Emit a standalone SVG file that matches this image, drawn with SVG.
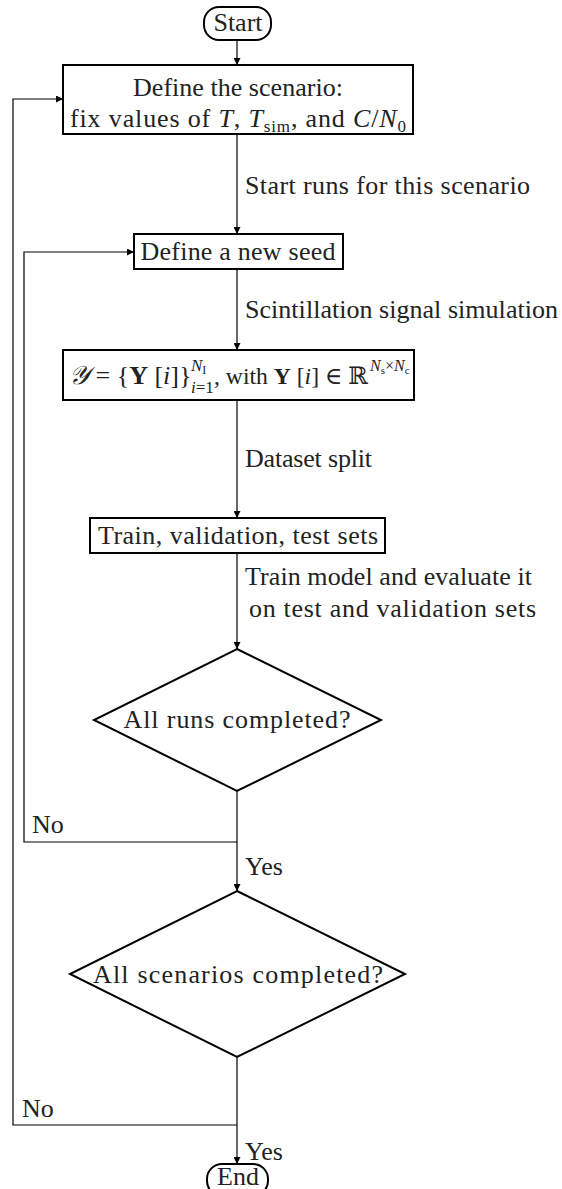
<svg xmlns="http://www.w3.org/2000/svg" width="562" height="1189" viewBox="0 0 562 1189">
  <style>
    .box { fill: #fff; stroke: #000; stroke-width: 2; }
    .edge { fill: none; stroke: #000; stroke-width: 1.2; }
    .t { font-family: "Liberation Serif", "Times New Roman", "DejaVu Serif", serif; font-size: 26px; fill: #222; }
    .c { text-anchor: middle; }
    .m { font-style: italic; }
    .s { font-size: 17px; }
    .ss { font-size: 12px; }
    .sup { font-size: 16px; }
    .sup2 { font-size: 11px; }
  </style>
  <defs>
    <marker id="arr" viewBox="0 0 10 10" refX="10" refY="5" markerWidth="7" markerHeight="7" markerUnits="userSpaceOnUse" orient="auto">
      <path d="M0,0 L10,5 L0,10 z" fill="#000"/>
    </marker>
  </defs>

  <!-- connectors -->
  <g id="connectors">
    <path class="edge" d="M237,40 V65" marker-end="url(#arr)"/>
    <path class="edge" d="M237,134 V234" marker-end="url(#arr)"/>
    <path class="edge" d="M237,269 V350" marker-end="url(#arr)"/>
    <path class="edge" d="M237,400 V518" marker-end="url(#arr)"/>
    <path class="edge" d="M237,553 V649" marker-end="url(#arr)"/>
    <path class="edge" d="M237,791 V891" marker-end="url(#arr)"/>
    <path class="edge" d="M237,1057 V1164" marker-end="url(#arr)"/>
    <!-- loop back: next run -->
    <path class="edge" d="M237,842 H24 V252 H134" marker-end="url(#arr)"/>
    <!-- loop back: next scenario -->
    <path class="edge" d="M237,1125 H13 V99 H63" marker-end="url(#arr)"/>

    <text class="t" x="245" y="194" textLength="285" lengthAdjust="spacing">Start runs for this scenario</text>
    <text class="t" x="245" y="318" textLength="313" lengthAdjust="spacing">Scintillation signal simulation</text>
    <text class="t" x="245" y="467" textLength="127" lengthAdjust="spacing">Dataset split</text>
    <text class="t" x="245" y="585" textLength="287" lengthAdjust="spacing">Train model and evaluate it</text>
    <text class="t" x="249" y="617" textLength="287" lengthAdjust="spacing">on test and validation sets</text>
    <text class="t" x="32" y="833">No</text>
    <text class="t" x="245" y="875">Yes</text>
    <text class="t" x="22" y="1117">No</text>
    <text class="t" x="245" y="1160">Yes</text>
  </g>

  <g id="start">
    <rect class="box" x="204" y="7" width="67" height="33" rx="15"/>
    <text class="t c" x="238" y="31">Start</text>
  </g>

  <g id="scenario">
    <rect class="box" x="63" y="65" width="350" height="69"/>
    <text class="t c" x="238" y="96" textLength="210" lengthAdjust="spacing">Define the scenario:</text>
    <text class="t" x="70" y="127" textLength="336" lengthAdjust="spacing">fix values of <tspan class="m">T</tspan>, <tspan class="m">T</tspan><tspan class="s" dy="5">sim</tspan><tspan dy="-5">, and </tspan><tspan class="m">C</tspan>/<tspan class="m">N</tspan><tspan class="s" dy="5">0</tspan></text>
  </g>

  <g id="seed">
    <rect class="box" x="134" y="234" width="209" height="35"/>
    <text class="t c" x="238" y="260" textLength="195" lengthAdjust="spacing">Define a new seed</text>
  </g>

  <g id="dataset">
    <rect class="box" x="63" y="350" width="351" height="50"/>
    <text class="t" x="69" y="384"><tspan font-family="DejaVu Serif, serif" font-style="italic">𝒴</tspan> = {<tspan font-weight="bold">Y</tspan> [<tspan class="m">i</tspan>]}</text>
    <text class="t s" x="191" y="371"><tspan class="m">N</tspan><tspan class="ss" dy="3">I</tspan></text>
    <text class="t s" x="191" y="393"><tspan class="m">i</tspan>=1</text>
    <text class="t" x="214" y="384" style="font-size:24px" textLength="154" lengthAdjust="spacingAndGlyphs">, with <tspan font-weight="bold">Y</tspan> [<tspan class="m">i</tspan>] ∈ <tspan font-family="DejaVu Serif, serif">ℝ</tspan></text>
    <text class="t sup" x="370" y="371"><tspan class="m">N</tspan><tspan class="sup2" dy="3">s</tspan><tspan dy="-3">×</tspan><tspan class="m">N</tspan><tspan class="sup2" dy="3">c</tspan></text>
  </g>

  <g id="splits">
    <rect class="box" x="90" y="518" width="295" height="35"/>
    <text class="t c" x="238" y="544" textLength="280" lengthAdjust="spacing">Train, validation, test sets</text>
  </g>

  <g id="runs-done">
    <polygon class="box" points="237,649 381,720 237,791 94,720"/>
    <text class="t c" x="237" y="728" textLength="227" lengthAdjust="spacing">All runs completed?</text>
  </g>

  <g id="scenarios-done">
    <polygon class="box" points="237,891 405,974 237,1057 70,974"/>
    <text class="t c" x="238" y="983" textLength="290" lengthAdjust="spacing">All scenarios completed?</text>
  </g>

  <g id="end">
    <rect class="box" x="207" y="1164" width="61" height="32" rx="15"/>
    <text class="t c" x="238" y="1185">End</text>
  </g>
</svg>
